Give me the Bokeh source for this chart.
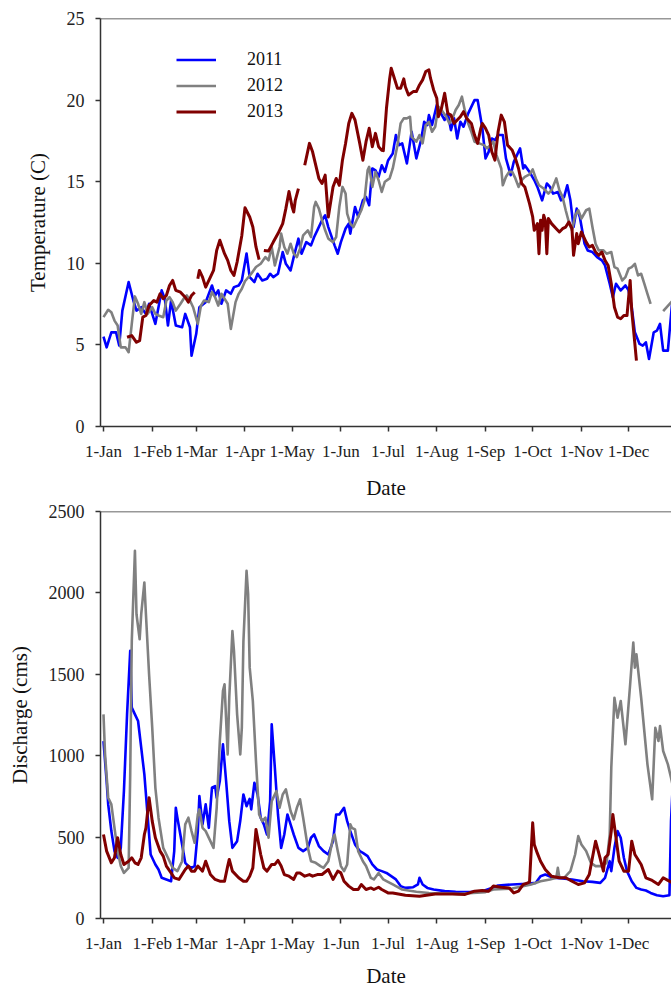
from bokeh.plotting import figure
from bokeh.layouts import column
from bokeh.models import Range1d, FixedTicker, Legend, LegendItem, Span
from bokeh.embed import file_html
from bokeh.resources import INLINE

nan = float("nan")

# Month tick positions (day of year, 0 = 1 Jan) and their labels
month_days = [0, 31, 59, 90, 120, 151, 181, 212, 243, 273, 304, 334]
month_labels = ["1-Jan", "1-Feb", "1-Mar", "1-Apr", "1-May", "1-Jun",
                "1-Jul", "1-Aug", "1-Sep", "1-Oct", "1-Nov", "1-Dec"]

years = ["2011", "2012", "2013"]
colors = ["#0000ff", "#808080", "#800000"]
widths = [2.6, 2.6, 3.0]

# ---- Water temperature (C) ----
temp_day_2011 = [0, 2, 5, 8, 10, 12, 16, 19, 21, 24, 27, 29, 33, 37, 39, 41, 43, 46, 50, 52,
                 55, 56, 59, 61, 65, 69, 71, 73, 75, 78, 81, 83, 86, 88, 91, 93, 96, 98, 101, 104,
                 106, 108, 111, 114, 116, 119, 121, 124, 126, 129, 132, 134, 136, 139, 141, 143, 147, 149, 151, 154,
                 156, 157, 160, 162, 165, 167, 169, 171, 173, 175, 177, 179, 181, 184, 186, 188, 190, 193, 196, 199,
                 202, 204, 206, 207, 209, 212, 214, 217, 219, 221, 223, 225, 227, 229, 232, 236, 238, 241, 243, 245,
                 247, 249, 251, 254, 256, 259, 261, 263, 265, 267, 268, 271, 274, 276, 279, 282, 284, 286, 289, 291,
                 293, 295, 297, 299, 301, 303, 306, 308, 311, 314, 317, 319, 322, 324, 326, 329, 332, 334, 336, 338,
                 341, 343, 345, 347, 350, 352, 354, 356, 359, 362]
temp_val_2011 = [5.5, 4.85, 5.77, 5.77, 4.96, 7.1, 8.85, 7.72, 7.1, 7.31, 6.9, 7.52, 6.29, 8.34, 7.83, 6.19, 7.72, 6.19, 6.08, 6.9,
                 6.08, 4.34, 5.68, 7.31, 7.62, 8.64, 8.03, 8.34, 7.52, 8.34, 8.13, 8.54, 8.64, 8.95, 10.6, 9.15, 8.85, 9.36, 8.95, 9.05,
                 9.36, 9.15, 9.36, 10.69, 9.97, 9.56, 10.38, 11.51, 10.59, 11.3, 11.1, 11.61, 12.02, 12.64, 12.94, 12.22, 11.1, 10.59, 11.3, 12.13,
                 12.43, 11.82, 13.45, 12.84, 13.86, 14.07, 13.56, 15.81, 15.7, 15.3, 16.01, 15.6, 16.3, 16.73, 17.86, 17.24, 17.35, 16.12, 18.06, 16.43,
                 17.55, 18.67, 18.47, 19.08, 18.47, 19.7, 19.29, 18.78, 19.19, 18.16, 18.88, 17.65, 18.67, 18.37, 19.19, 20.0, 20.0, 18.27, 16.43, 16.83,
                 17.65, 17.55, 17.86, 17.86, 16.43, 15.4, 16.22, 16.63, 17.04, 15.81, 16.0, 15.6, 15.1, 14.68, 13.86, 14.89, 14.68, 14.27, 14.37, 13.86,
                 14.07, 14.78, 13.86, 12.22, 13.35, 12.84, 11.2, 10.79, 10.69, 10.38, 10.18, 9.87, 8.75, 7.92, 8.75, 8.34, 8.64, 8.34, 7.31, 5.77,
                 5.06, 4.96, 5.16, 4.14, 5.77, 5.87, 6.29, 4.65, 4.65, 7.9]

temp_day_2012 = [0, 3, 5, 7, 9, 11, 14, 16, 18, 20, 22, 24, 26, 28, 31, 33, 35, 38, 40, 42,
                 44, 46, 49, 51, 53, 55, 57, 60, 62, 64, 67, 69, 71, 73, 75, 77, 79, 81, 84, 86,
                 88, 90, 94, 97, 100, 103, 105, 107, 109, 112, 113, 115, 117, 119, 121, 123, 125, 127, 130, 132,
                 134, 135, 137, 139, 141, 143, 146, 148, 150, 152, 154, 155, 157, 159, 161, 164, 166, 168, 169, 171,
                 173, 175, 177, 179, 182, 184, 187, 189, 191, 193, 195, 196, 199, 201, 203, 205, 207, 209, 211, 213,
                 215, 218, 220, 222, 224, 226, 228, 230, 232, 234, 236, 239, 242, 244, 246, 248, 250, 253, 254, 256,
                 258, 260, 262, 264, 266, 268, 271, 273, 275, 277, 280, 283, 285, 288, 290, 292, 294, 296, 298, 300,
                 302, 304, 307, 309, 311, 313, 315, 318, 320, 323, 325, 327, 330, 332, 334, 336, 338, 340, 342, 344,
                 346, 348, 352, 356, 360, 362]
temp_val_2012 = [6.7, 7.15, 7.0, 6.49, 6.19, 4.85, 4.85, 4.55, 6.29, 7.97, 7.52, 6.9, 7.62, 6.9, 7.31, 6.9, 6.8, 6.7, 7.72, 7.92,
                 7.62, 7.1, 7.52, 7.83, 8.03, 7.72, 7.31, 6.29, 7.41, 7.72, 7.62, 8.23, 7.92, 7.41, 8.13, 7.83, 7.52, 5.98, 7.62, 8.13,
                 8.44, 8.9, 9.36, 9.77, 9.97, 10.38, 10.18, 11.0, 9.87, 11.0, 11.82, 11.0, 10.59, 11.2, 10.59, 10.38, 10.9, 11.71, 12.02, 11.61,
                 13.45, 13.76, 13.35, 12.64, 12.02, 11.51, 11.3, 11.61, 13.45, 14.68, 14.27, 13.04, 12.43, 12.22, 12.64, 13.25, 13.86, 15.7, 15.91, 14.68,
                 15.6, 15.09, 14.37, 15.0, 15.2, 15.81, 17.24, 18.57, 18.88, 18.88, 18.98, 17.75, 17.45, 17.86, 17.35, 18.47, 18.67, 18.06, 18.37, 19.6,
                 19.39, 18.98, 18.57, 18.88, 19.39, 19.7, 20.21, 19.29, 18.57, 18.06, 17.45, 17.35, 17.24, 17.04, 17.24, 17.45, 16.63, 15.81, 14.78, 15.3,
                 15.6, 15.6, 15.2, 14.68, 15.09, 15.3, 15.45, 15.75, 15.2, 14.78, 14.58, 14.27, 14.48, 15.2, 14.48, 14.07, 13.25, 12.53, 12.02, 12.94,
                 13.25, 12.74, 13.25, 13.35, 12.22, 11.2, 10.79, 10.79, 10.59, 10.69, 9.77, 9.67, 8.95, 9.15, 9.67, 9.77, 9.97, 9.26, 9.36, 8.75,
                 8.13, 7.52, nan, 7.07, 7.5, 7.7]

temp_day_2013 = [15, 18, 21, 23, 25, 27, 29, 32, 34, 36, 38, 40, 42, 44, 46, 49, 52, 54, 56, 58,
                 59, 60, 61, 63, 65, 68, 70, 72, 74, 77, 79, 81, 83, 85, 88, 90, 93, 95, 97, 99,
                 100, 102, 105, 108, 111, 114, 116, 118, 120, 121, 122, 124, 126, 128, 131, 133, 135, 137, 139, 141,
                 143, 146, 148, 150, 152, 154, 156, 158, 160, 163, 165, 167, 169, 171, 173, 175, 177, 178, 180, 182,
                 183, 185, 187, 189, 191, 192, 194, 197, 199, 201, 203, 205, 207, 208, 210, 212, 213, 215, 217, 219,
                 221, 223, 225, 227, 229, 231, 234, 236, 238, 240, 241, 243, 245, 247, 249, 251, 253, 255, 257, 260,
                 262, 264, 266, 268, 271, 273, 274, 276, 277, 278, 279, 280, 281, 282, 283, 285, 288, 290, 292, 294,
                 296, 298, 299, 301, 302, 304, 307, 309, 311, 313, 315, 317, 319, 321, 323, 325, 327, 329, 331, 333,
                 335, 336, 338, 339]
temp_val_2013 = [5.47, 5.57, 5.16, 5.26, 6.7, 6.8, 7.41, 7.72, 7.62, 8.13, 7.83, 8.03, 8.64, 8.95, 8.34, 8.23, 7.92, 7.62, 8.03, 8.23,
                 nan, 9.05, 9.56, 9.15, 8.54, 9.15, 9.56, 10.79, 11.41, 10.59, 10.18, 9.56, 9.26, 10.08, 11.71, 13.4, 12.84, 12.22, 11.0, 10.22,
                 nan, 10.79, 10.75, 11.3, 11.82, 12.43, 13.35, 14.4, 13.45, 13.14, 13.86, 14.58, nan, 16.01, 17.35, 16.83, 16.01, 15.2, 14.89, 15.4,
                 12.84, 14.68, 15.2, 14.78, 16.32, 17.35, 18.57, 19.19, 18.78, 17.35, 16.32, 17.45, 18.27, 17.14, 17.96, 17.14, 16.93, 16.9, 19.5, 21.3,
                 21.95, 21.34, 20.72, 20.72, 21.3, 20.82, 20.31, 20.52, 20.52, 20.93, 21.24, 21.75, 21.85, 21.34, 20.62, 20.11, 18.98, 19.5, 20.42, 19.19,
                 19.08, 18.57, 18.78, 18.98, 19.29, 18.88, 18.57, 17.86, 17.35, 18.27, 18.57, 18.27, 17.86, 16.83, 16.32, 18.06, 19.08, 18.67, 17.24, 16.93,
                 16.43, 15.81, 14.89, 14.68, 13.66, 12.84, 12.02, 12.43, 10.59, 12.64, 12.02, 12.94, 12.64, 10.59, 12.74, 12.43, 12.12, 11.92, 12.12, 12.22,
                 12.53, 12.12, 10.49, 11.82, 11.2, 11.92, 11.3, 11.0, 11.1, 10.69, 10.49, 10.69, 10.18, 9.87, 8.75, 7.31, 6.7, 6.6, 6.8, 6.8,
                 8.95, 7.1, 5.06, 4.04]

# ---- Discharge (cms) ----
flow_day_2011 = [0, 2, 3, 5, 7, 9, 11, 13, 15, 17, 18, 20, 22, 24, 26, 28, 30, 33, 35, 37,
                 40, 43, 45, 46, 47, 50, 52, 54, 56, 58, 60, 61, 63, 65, 67, 69, 71, 72, 74, 76,
                 78, 80, 82, 85, 87, 89, 91, 93, 94, 96, 98, 100, 102, 104, 106, 107, 109, 111, 113, 115,
                 117, 119, 121, 124, 127, 130, 132, 134, 137, 140, 143, 146, 148, 150, 153, 155, 157, 160, 163, 165,
                 168, 171, 174, 177, 180, 183, 186, 189, 192, 197, 200, 201, 203, 206, 210, 217, 224, 233, 241, 247,
                 251, 260, 269, 275, 278, 281, 286, 292, 298, 305, 311, 316, 319, 322, 323, 325, 327, 329, 331, 333,
                 336, 339, 342, 345, 348, 352, 356, 360, 361, 362]
flow_val_2011 = [1090, 844, 701, 537, 414, 373, 434, 783, 1254, 1644, 1295, 1254, 1213, 1049, 885, 639, 393, 332, 301, 250,
                 240, 229, 414, 680, 619, 455, 342, 322, 311, 322, 537, 752, 578, 701, 557, 803, 813, 742, 844, 1070,
                 844, 598, 434, 475, 600, 762, 690, 735, 670, 834, 762, 619, 578, 516, 721, 1193, 926, 639, 434, 516,
                 639, 578, 516, 434, 414, 434, 496, 516, 445, 414, 393, 475, 639, 639, 680, 598, 537, 455, 414, 403,
                 383, 332, 301, 291, 280, 260, 240, 199, 188, 192, 209, 250, 209, 188, 178, 168, 164, 162, 168, 188,
                 203, 209, 213, 219, 260, 270, 250, 246, 240, 229, 225, 219, 250, 352, 291, 434, 537, 496, 373, 291,
                 229, 188, 178, 172, 157, 143, 137, 143, 598, 800]

flow_day_2012 = [0, 1, 3, 5, 7, 9, 11, 13, 16, 17, 18, 20, 21, 23, 24, 26, 27, 29, 31, 33,
                 35, 38, 41, 44, 47, 50, 52, 54, 56, 58, 60, 61, 63, 65, 68, 70, 72, 74, 76, 77,
                 79, 80, 82, 83, 85, 87, 88, 89, 91, 92, 93, 95, 97, 99, 101, 103, 105, 107, 110, 112,
                 114, 116, 119, 121, 123, 125, 127, 130, 132, 135, 138, 140, 143, 146, 147, 149, 151, 153, 155, 157,
                 158, 160, 162, 165, 167, 170, 172, 175, 178, 180, 184, 190, 199, 207, 217, 226, 235, 243, 248, 260,
                 272, 278, 284, 288, 289, 290, 293, 297, 300, 302, 304, 307, 310, 313, 317, 320, 322, 323, 325, 327,
                 329, 332, 335, 337, 338, 339, 342, 346, 349, 351, 353, 354, 356, 359, 361, 362]
flow_val_2012 = [1254, 1008, 742, 701, 557, 414, 322, 280, 311, 885, 1705, 2258, 1869, 1715, 1869, 2064, 1869, 1500, 1172, 803,
                 619, 434, 373, 311, 291, 352, 578, 619, 537, 465, 639, 670, 557, 537, 475, 434, 680, 1090, 1398, 1439,
                 1008, 1356, 1766, 1644, 1254, 1008, 1172, 1700, 2135, 1992, 1541, 1336, 967, 639, 598, 619, 496, 721, 783, 680,
                 762, 793, 660, 609, 680, 732, 619, 434, 352, 342, 322, 311, 352, 496, 516, 414, 322, 291, 332, 578,
                 557, 547, 414, 352, 322, 250, 240, 280, 240, 230, 209, 178, 164, 157, 154, 151, 157, 162, 178, 184,
                 209, 229, 240, 250, 311, 250, 250, 291, 393, 506, 455, 414, 342, 322, 322, 342, 516, 926, 1356, 1233,
                 1336, 1070, 1439, 1695, 1541, 1623, 1356, 947, 732, 1172, 1090, 1182, 1029, 947, 865, 820]

flow_day_2013 = [0, 2, 5, 7, 9, 11, 13, 16, 18, 20, 22, 24, 26, 27, 29, 31, 33, 36, 38, 40,
                 43, 45, 48, 52, 54, 56, 58, 60, 63, 65, 68, 71, 74, 77, 79, 80, 82, 86, 89, 91,
                 93, 95, 97, 100, 102, 104, 107, 109, 111, 113, 115, 118, 121, 123, 125, 128, 131, 133, 136, 139,
                 143, 146, 149, 151, 153, 156, 159, 162, 164, 167, 170, 172, 175, 177, 181, 184, 192, 201, 211, 222,
                 230, 236, 241, 245, 248, 253, 258, 261, 264, 267, 270, 271, 273, 274, 276, 278, 281, 285, 290, 294,
                 298, 302, 306, 309, 311, 313, 315, 318, 319, 321, 323, 324, 326, 328, 331, 334, 336, 338, 342, 345,
                 349, 353, 356, 359, 362]
flow_val_2013 = [516, 414, 342, 373, 496, 393, 332, 352, 373, 342, 332, 373, 516, 557, 742, 598, 496, 414, 383, 322,
                 280, 250, 240, 301, 322, 291, 291, 322, 291, 352, 270, 240, 229, 229, 322, 363, 291, 250, 229, 229,
                 260, 311, 547, 393, 311, 291, 332, 332, 357, 322, 270, 260, 240, 280, 280, 260, 270, 260, 270, 270,
                 301, 240, 291, 280, 229, 199, 178, 178, 209, 178, 188, 178, 192, 178, 157, 157, 143, 137, 151, 151,
                 148, 168, 172, 168, 199, 192, 188, 157, 168, 209, 219, 225, 588, 455, 400, 352, 301, 260, 250, 250,
                 229, 209, 219, 270, 373, 475, 403, 291, 373, 393, 537, 639, 496, 352, 291, 291, 475, 393, 332, 250,
                 234, 209, 250, 234, 219]

FONT = "Liberation Serif"
AXIS_COLOR = "#333333"


def make_panel(y_end, y_ticks, y_label, frame_height, top, bottom, date_standoff):
    p = figure(width=671, height=top + frame_height + bottom,
               frame_width=571, frame_height=frame_height,
               x_range=Range1d(-1.9, 361.3), y_range=Range1d(0, y_end),
               output_backend="svg", toolbar_location=None,
               min_border_left=100, min_border_right=0,
               min_border_top=top, min_border_bottom=bottom)
    p.outline_line_color = None
    p.grid.visible = False
    p.background_fill_color = "white"
    p.border_fill_color = "white"

    p.xaxis.ticker = FixedTicker(ticks=month_days)
    p.xaxis.major_label_overrides = dict(zip(month_days, month_labels))
    p.xaxis.axis_label = "Date"
    p.yaxis.ticker = FixedTicker(ticks=y_ticks)
    p.yaxis.axis_label = y_label

    for ax in (p.xaxis[0], p.yaxis[0]):
        ax.axis_line_color = AXIS_COLOR
        ax.axis_line_width = 1.5
        ax.major_tick_line_color = AXIS_COLOR
        ax.major_tick_line_width = 1.5
        ax.major_tick_out = 5
        ax.major_tick_in = 0
        ax.minor_tick_line_color = None
        ax.major_label_text_font = FONT
        ax.major_label_text_color = "#222222"
        ax.axis_label_text_font = FONT
        ax.axis_label_text_font_size = "21px"
        ax.axis_label_text_font_style = "normal"
        ax.axis_label_text_color = "#111111"
    p.xaxis.major_label_text_font_size = "17px"
    p.yaxis.major_label_text_font_size = "18px"
    p.xaxis.major_label_standoff = 10
    p.xaxis.axis_label_standoff = date_standoff
    p.yaxis.major_label_standoff = 11
    p.yaxis.axis_label_standoff = 14

    # plain line along the top edge of the plotting area
    p.add_layout(Span(location=y_end, dimension="width",
                      line_color=AXIS_COLOR, line_width=1.5))
    return p


# Temperature panel
p1 = make_panel(25, [0, 5, 10, 15, 20, 25], "Temperature (C)", 408, 18, 74, 12)
temp_series = [(temp_day_2011, temp_val_2011), (temp_day_2012, temp_val_2012), (temp_day_2013, temp_val_2013)]
items = []
for (d, v), yr, c, w in zip(temp_series, years, colors, widths):
    r = p1.line(d, v, line_color=c, line_width=w, line_join="round")
    items.append(LegendItem(label=yr, renderers=[r]))
legend = Legend(items=items, location=(76, 304), margin=0, padding=0, spacing=5,
                glyph_width=40, glyph_height=21, label_height=21, label_standoff=31,
                label_text_font=FONT, label_text_font_size="18px", label_text_color="#111111",
                background_fill_alpha=0, border_line_color=None)
p1.add_layout(legend)

# Discharge panel
p2 = make_panel(2500, [0, 500, 1000, 1500, 2000, 2500], "Discharge (cms)", 407, 9, 70, 8)
flow_series = [(flow_day_2011, flow_val_2011), (flow_day_2012, flow_val_2012), (flow_day_2013, flow_val_2013)]
for (d, v), c, w in zip(flow_series, colors, widths):
    p2.line(d, v, line_color=c, line_width=w, line_join="round")

layout = column(p1, p2, spacing=0)
open("out.html", "w").write(file_html(layout, INLINE))
